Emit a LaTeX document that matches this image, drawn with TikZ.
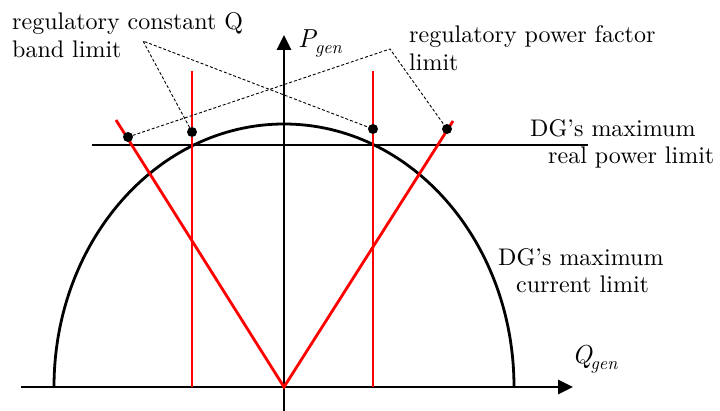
\documentclass[tikz,border=0pt]{standalone}
\usepackage{fontspec}
\setmainfont{lmroman10-regular.otf}[ItalicFont=lmroman10-italic.otf]
\usetikzlibrary{arrows.meta}
\newcommand{\qsub}[2]{\textit{#1}\kern-2pt\raisebox{-6pt}{\fontsize{18}{18}\selectfont\itshape #2}}
\begin{document}
\begin{tikzpicture}[x=1pt,y=-1pt,
  axis/.style={line width=2.8pt,-{Triangle[length=15pt,width=14pt]}},
  bline/.style={line width=2.8pt},
  rline/.style={line width=2.8pt,red},
  leader/.style={line width=0.9pt,dash pattern=on 3pt off 2pt},
  dot/.style={circle,fill=black,inner sep=0pt,minimum size=10pt},
  lbl/.style={inner sep=0pt,anchor=base west,font=\fontsize{24}{28}\selectfont}]
\useasboundingbox (0,0) rectangle (720,411);
% origin
\coordinate (O) at (284,387);
% axes
\coordinate (xs) at (21,387);
\coordinate (xe) at (573,387);
\coordinate (ys) at (284,411);
\coordinate (ye) at (284,35);
\draw[axis] (xs) -- (xe);
\draw[axis] (ys) -- (ye);
% current limit (half ellipse)
\draw[bline] (54,387) arc[start angle=180,end angle=0,x radius=230pt,y radius=263pt];
% real power limit
\coordinate (ps) at (92,145);
\coordinate (pe) at (588,145);
\draw[bline] (ps) -- (pe);
% constant Q band
\coordinate (q1t) at (192,71);
\coordinate (q1b) at (192,387);
\coordinate (q2t) at (373,71);
\coordinate (q2b) at (373,387);
\draw[rline] (q1t) -- (q1b);
\draw[rline] (q2t) -- (q2b);
% power factor limits
\coordinate (pf1) at (116,120);
\coordinate (pf2) at (453,121);
\draw[rline] (pf1) -- (O) -- (pf2);
% dots
\node[dot] (d1) at (128,137) {};
\node[dot] (d2) at (192,132) {};
\node[dot] (d3) at (373,129) {};
\node[dot] (d4) at (447,129) {};
% leader points
\coordinate (lq) at (143,41);
\coordinate (lp) at (390,49);
\draw[leader] (d2.center) -- (lq) -- (d3.center);
\draw[leader] (d1.center) -- (lp) -- (d4.center);
% labels
\node[lbl] (t1) at (12,30) {regulatory constant Q};
\node[lbl] (t2) at (12,58) {band limit};
\node[lbl] (t3) at (409,43) {regulatory power factor};
\node[lbl] (t4) at (409,71) {limit};
\node[lbl] (t5) at (530,137) {DG’s maximum};
\node[lbl] (t6) at (548,164) {real power limit};
\node[lbl] (t7) at (498,266) {DG’s maximum};
\node[lbl] (t8) at (516,293) {current limit};
\node[lbl,font=\fontsize{26}{28}\selectfont] (t9) at (298,48) {\qsub{P}{gen}};
\node[lbl,font=\fontsize{26}{28}\selectfont] (t10) at (572,363) {\qsub{Q}{gen}};
\end{tikzpicture}
\end{document}
